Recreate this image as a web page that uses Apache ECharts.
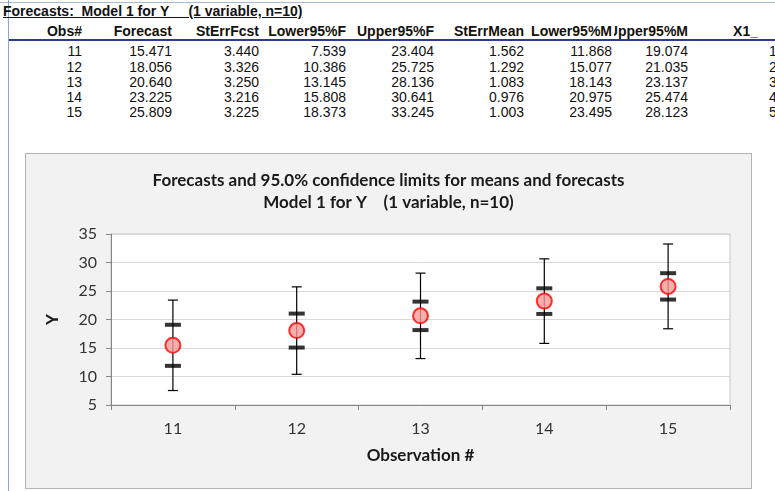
<!DOCTYPE html>
<html>
<head>
<meta charset="utf-8">
<script src="https://cdn.jsdelivr.net/npm/echarts@6/dist/echarts.min.js"></script>
<style>
  html, body { margin: 0; padding: 0; background: #fff; }
  body { width: 775px; height: 491px; position: relative; overflow: hidden; font-family: "Liberation Sans", Arial, sans-serif; }
  .t { position: absolute; font-size: 14px; color: #111; white-space: nowrap; }
  .hd { font-weight: bold; }
  .cell { position: absolute; font-size: 14px; line-height: 16px; color: #111; white-space: nowrap; overflow: hidden; display: flex; justify-content: flex-end; }
  #topline { position: absolute; left: 0; top: 2px; width: 775px; height: 1px; background: #a9b8cc; }
  #hdline { position: absolute; left: 9px; top: 39px; width: 766px; height: 2px; background: #2f3b86; }
  #leftline { position: absolute; left: 8px; top: 0; width: 1px; height: 491px; background: #86a8dc; }
  #chart { position: absolute; left: 25px; top: 153px; width: 727px; height: 336px; background: #f2f2f2; border: 1px solid #b4b4b4; box-sizing: border-box; }
</style>
</head>
<body>
<div id="topline"></div>
<div id="leftline"></div>
<div id="hdline"></div>
<div class="t hd" style="left:3px; top:3px; text-decoration: underline;">Forecasts:&nbsp; Model 1 for Y &nbsp;&nbsp;&nbsp; (1 variable, n=10)</div>
<div id="table"></div>
<div id="chart"></div>
<script>
// forecast table values
var obs = ['11', '12', '13', '14', '15'];
var forecast = [15.471, 18.056, 20.640, 23.225, 25.809];
var stErrFcst = [3.440, 3.326, 3.250, 3.216, 3.225];
var lower95F = [7.539, 10.386, 13.145, 15.808, 18.373];
var upper95F = [23.404, 25.725, 28.136, 30.641, 33.245];
var stErrMean = [1.562, 1.292, 1.083, 0.976, 1.003];
var lower95M = [11.868, 15.077, 18.143, 20.975, 23.495];
var upper95M = [19.074, 21.035, 23.137, 25.474, 28.123];
var x1 = ['1', '2', '3', '4', '5'];
var headers = ['Obs#', 'Forecast', 'StErrFcst', 'Lower95%F', 'Upper95%F', 'StErrMean', 'Lower95%M', 'Upper95%M', 'X1_'];
var yTicks = [5, 10, 15, 20, 25, 30, 35];

// table (plain html text)
var cols = [
  { l: 20, r: 82, vals: obs },
  { l: 90, r: 172, vals: forecast.map(v => v.toFixed(3)) },
  { l: 175, r: 259, vals: stErrFcst.map(v => v.toFixed(3)) },
  { l: 262, r: 346, vals: lower95F.map(v => v.toFixed(3)) },
  { l: 349, r: 434, vals: upper95F.map(v => v.toFixed(3)) },
  { l: 437, r: 524, vals: stErrMean.map(v => v.toFixed(3)) },
  { l: 527, r: 612, vals: lower95M.map(v => v.toFixed(3)) },
  { l: 614, r: 688, vals: upper95M.map(v => v.toFixed(3)) },
  { l: 700, r: 758, vals: ['', '', '', '', ''] },
  { l: 769, r: 785, vals: x1 }
];
var rowY = [43, 59, 74, 89, 104];
var html = '';
cols.forEach(function (c, i) {
  var w = c.r - c.l;
  if (i < headers.length) {
    html += '<div class="cell hd" style="left:' + c.l + 'px;top:23px;width:' + w + 'px"><span>' + headers[i] + '</span></div>';
  }
  c.vals.forEach(function (v, j) {
    html += '<div class="cell" style="left:' + c.l + 'px;top:' + rowY[j] + 'px;width:' + w + 'px;justify-content:' + (i === 9 ? 'flex-start' : 'flex-end') + '"><span>' + v + '</span></div>';
  });
});
document.getElementById('table').innerHTML = html;

var chart = echarts.init(document.getElementById('chart'));
var font = 'Lato, "Open Sans", sans-serif';

chart.setOption({
  animation: false,
  title: {
    text: 'Forecasts and 95.0% confidence limits for means and forecasts\nModel 1 for Y    (1 variable, n=10)',
    left: 'center',
    top: 11,
    textStyle: { fontFamily: font, fontSize: 17, fontWeight: 'bold', color: '#1a1a1a', lineHeight: 22 }
  },
  grid: {
    left: 85, right: 21, top: 80, bottom: 83,
    show: true, backgroundColor: '#fff', borderColor: '#c8c8c8', borderWidth: 1
  },
  xAxis: {
    type: 'category',
    data: obs,
    name: 'Observation #',
    nameLocation: 'middle',
    nameGap: 42,
    nameTextStyle: { fontFamily: font, fontSize: 17, fontWeight: 'bold', color: '#1a1a1a' },
    axisLine: { lineStyle: { color: '#868686' } },
    axisTick: { show: true, alignWithLabel: false, length: 5, lineStyle: { color: '#868686' } },
    axisLabel: { fontFamily: font, fontSize: 16, color: '#333', margin: 16 },
    splitLine: { show: false }
  },
  yAxis: {
    type: 'value',
    min: yTicks[0],
    max: yTicks[yTicks.length - 1],
    interval: 5,
    name: 'Y',
    nameLocation: 'middle',
    nameGap: 50,
    nameRotate: 90,
    nameTextStyle: { fontFamily: font, fontSize: 17, fontWeight: 'bold', color: '#1a1a1a' },
    axisLine: { show: true, lineStyle: { color: '#868686' } },
    axisTick: { show: true, length: 5, lineStyle: { color: '#868686' } },
    axisLabel: { fontFamily: font, fontSize: 16, color: '#333', margin: 14 },
    splitLine: { lineStyle: { color: '#d9d9d9' } }
  },
  series: [
    {
      // 95% forecast limits: whisker with caps
      type: 'custom',
      data: obs.map((o, i) => [i, lower95F[i], upper95F[i]]),
      encode: { x: 0, y: [1, 2] },
      renderItem: function (params, api) {
        var lo = api.coord([api.value(0), api.value(1)]);
        var hi = api.coord([api.value(0), api.value(2)]);
        var hw = 5;
        var st = { stroke: '#000', lineWidth: 1.2 };
        return {
          type: 'group',
          children: [
            { type: 'line', shape: { x1: lo[0], y1: lo[1], x2: hi[0], y2: hi[1] }, style: st },
            { type: 'line', shape: { x1: lo[0] - hw, y1: lo[1], x2: lo[0] + hw, y2: lo[1] }, style: st },
            { type: 'line', shape: { x1: hi[0] - hw, y1: hi[1], x2: hi[0] + hw, y2: hi[1] }, style: st }
          ]
        };
      },
      z: 2
    },
    {
      // 95% limits for means
      type: 'scatter',
      data: lower95M.map((v, i) => [i, v]),
      symbol: 'rect',
      symbolSize: [16, 4],
      itemStyle: { color: '#000' },
      z: 3
    },
    {
      type: 'scatter',
      data: upper95M.map((v, i) => [i, v]),
      symbol: 'rect',
      symbolSize: [16, 4],
      itemStyle: { color: '#000' },
      z: 3
    },
    {
      type: 'scatter',
      data: forecast.map((v, i) => [i, v]),
      symbol: 'circle',
      symbolSize: 15,
      itemStyle: { color: '#f79a9a', borderColor: '#ff0000', borderWidth: 2 },
      z: 4
    }
  ]
});
</script>
</body>
</html>
